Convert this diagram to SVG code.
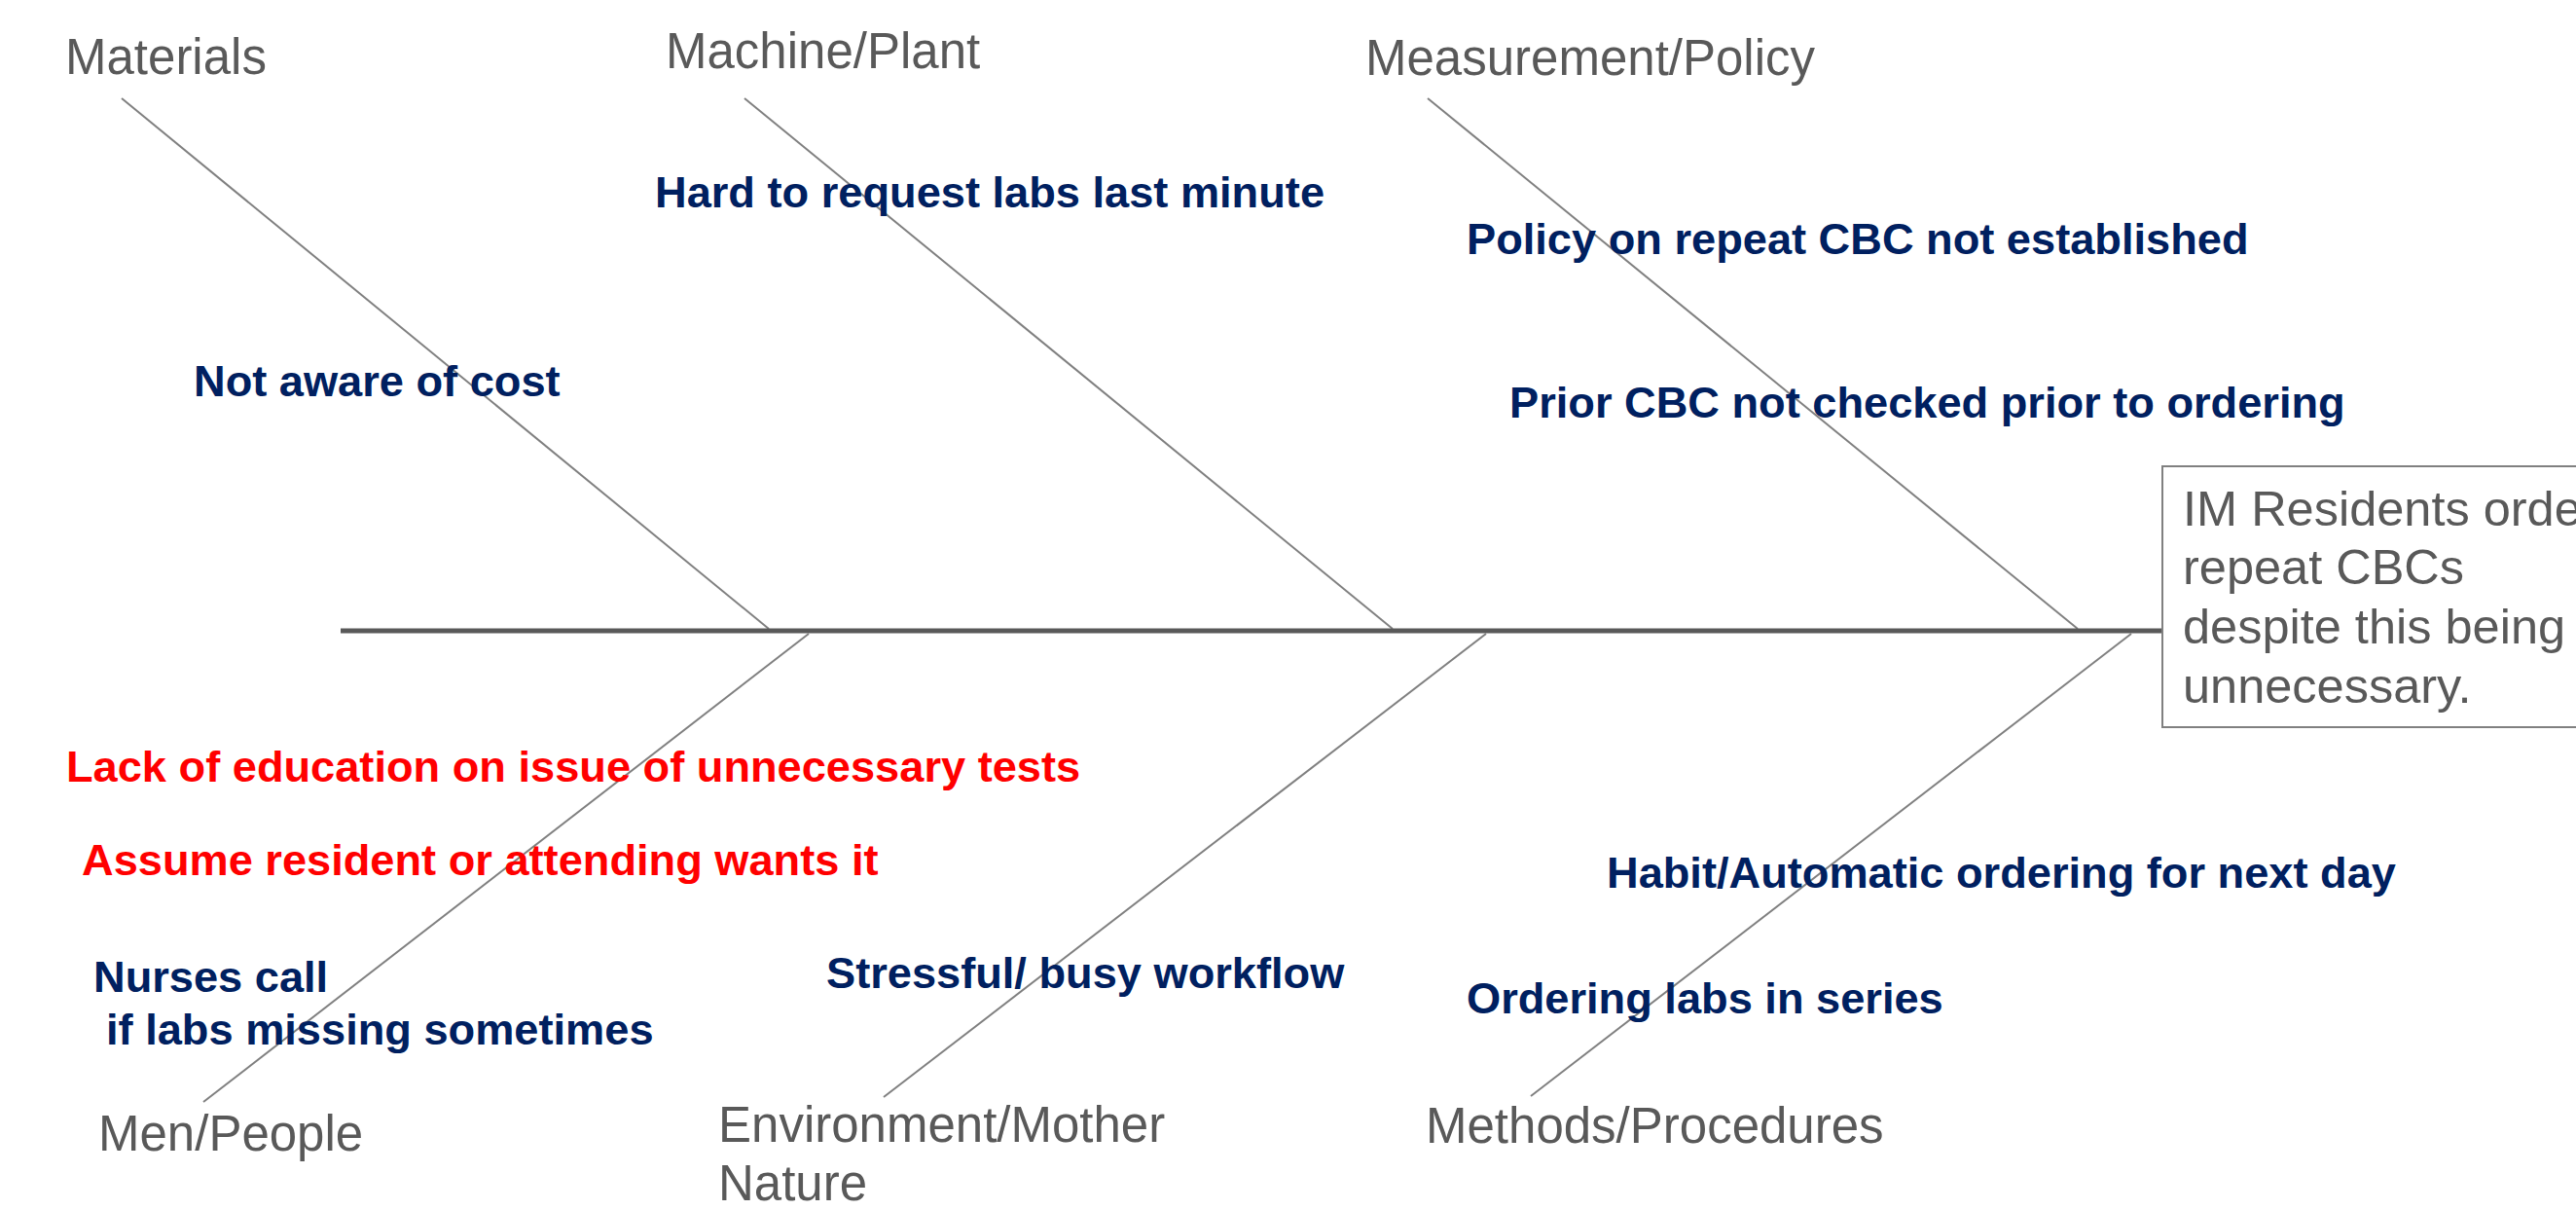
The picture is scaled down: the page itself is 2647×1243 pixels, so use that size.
<svg xmlns="http://www.w3.org/2000/svg" width="2647" height="1243" viewBox="0 0 2647 1243">
  <style>
    .bone { stroke: #808080; stroke-width: 2; fill: none; }
    .spine { stroke: #595959; stroke-width: 5; fill: none; }
    .cat { font-family: "Liberation Sans", Arial, sans-serif; font-size: 51px; fill: #595959; }
    .cause { font-family: "Liberation Sans", Arial, sans-serif; font-size: 45.2px; font-weight: bold; fill: #002060; }
    .hot { fill: #FF0000; }
    .effect-box { fill: #FFFFFF; stroke: #808080; stroke-width: 2; }
    .effect-text { font-family: "Liberation Sans", Arial, sans-serif; font-size: 50.5px; fill: #595959; }
  </style>
  <rect width="2647" height="1243" fill="#FFFFFF"/>

  <!-- spine and category bones -->
  <g id="connectors">
    <line class="bone" x1="125" y1="101" x2="790" y2="646"/>
    <line class="bone" x1="765" y1="101" x2="1431" y2="646"/>
    <line class="bone" x1="1467" y1="101" x2="2135" y2="646"/>
    <line class="bone" x1="209" y1="1132" x2="831" y2="651"/>
    <line class="bone" x1="908" y1="1127" x2="1527" y2="651"/>
    <line class="bone" x1="1573" y1="1126" x2="2190" y2="651"/>
    <line class="spine" x1="350" y1="648" x2="2231" y2="648"/>
  </g>

  <!-- effect (fish head) -->
  <g id="effect">
    <rect class="effect-box" x="2222" y="479" width="500" height="268"/>
    <text class="effect-text" x="2243" y="540">IM Residents order</text>
    <text class="effect-text" x="2243" y="600">repeat CBCs</text>
    <text class="effect-text" x="2243" y="661">despite this being</text>
    <text class="effect-text" x="2243" y="722">unnecessary.</text>
  </g>

  <!-- category labels -->
  <g id="materials"><text class="cat" x="67" y="76">Materials</text></g>
  <g id="machine-plant"><text class="cat" x="684" y="70">Machine/Plant</text></g>
  <g id="measurement-policy"><text class="cat" x="1403" y="77">Measurement/Policy</text></g>
  <g id="men-people"><text class="cat" x="101" y="1182">Men/People</text></g>
  <g id="environment">
    <text class="cat" x="738" y="1173">Environment/Mother</text>
    <text class="cat" x="738" y="1233">Nature</text>
  </g>
  <g id="methods-procedures"><text class="cat" x="1465" y="1174">Methods/Procedures</text></g>

  <!-- causes -->
  <g id="cause-cost"><text class="cause" x="199" y="407">Not aware of cost</text></g>
  <g id="cause-request"><text class="cause" x="673" y="213">Hard to request labs last minute</text></g>
  <g id="cause-policy"><text class="cause" x="1507" y="261">Policy on repeat CBC not established</text></g>
  <g id="cause-prior"><text class="cause" x="1551" y="429">Prior CBC not checked prior to ordering</text></g>
  <g id="cause-education"><text class="cause hot" x="68" y="803">Lack of education on issue of unnecessary tests</text></g>
  <g id="cause-assume"><text class="cause hot" x="84" y="899">Assume resident or attending wants it</text></g>
  <g id="cause-nurses">
    <text class="cause" x="96" y="1019">Nurses call</text>
    <text class="cause" x="109" y="1073">if labs missing sometimes</text>
  </g>
  <g id="cause-stress"><text class="cause" x="849" y="1015">Stressful/ busy workflow</text></g>
  <g id="cause-habit"><text class="cause" x="1651" y="912">Habit/Automatic ordering for next day</text></g>
  <g id="cause-series"><text class="cause" x="1507" y="1041">Ordering labs in series</text></g>
</svg>
